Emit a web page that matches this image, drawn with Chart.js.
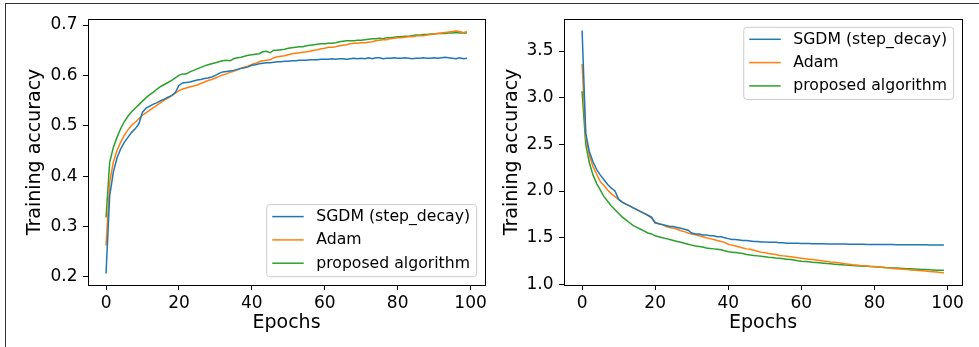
<!DOCTYPE html>
<html><head><meta charset="utf-8">
<script src="https://cdn.jsdelivr.net/npm/chart.js@4.4.1/dist/chart.umd.min.js"></script>
<style>
html,body{margin:0;padding:0;background:#fff;width:979px;height:347px;overflow:hidden;}
#frame{position:absolute;left:5px;top:3px;width:974px;height:344px;border-top:1px solid #333;border-left:1px solid #333;box-sizing:border-box;}
canvas{position:absolute;top:0;}
</style></head><body>
<div id="frame"></div>
<canvas id="c1" width="490" height="347" style="left:0"></canvas>
<canvas id="c2" width="489" height="347" style="left:490px"></canvas>
<script>
const EPOCHS = Array.from({length: 100}, (_, i) => i);
const SERIES_NAMES = ['SGDM (step_decay)', 'Adam', 'proposed algorithm'];
const X_TITLE = 'Epochs';
const Y_TITLE = 'Training accuracy';

const ACC_SGDM = [0.207,0.361,0.408,0.436,0.454,0.467,0.477,0.487,0.494,0.504,
0.527,0.535,0.539,0.543,0.546,0.550,0.553,0.557,0.560,0.566,
0.580,0.585,0.586,0.587,0.589,0.591,0.592,0.594,0.595,0.597,
0.600,0.604,0.607,0.608,0.609,0.610,0.612,0.614,0.615,0.617,
0.620,0.621,0.623,0.624,0.625,0.625,0.626,0.627,0.627,0.628,
0.628,0.629,0.629,0.630,0.630,0.630,0.631,0.631,0.631,0.632,
0.632,0.632,0.633,0.632,0.633,0.633,0.632,0.633,0.634,0.633,
0.634,0.633,0.635,0.633,0.635,0.635,0.633,0.634,0.634,0.635,
0.634,0.634,0.635,0.634,0.633,0.634,0.634,0.635,0.634,0.634,
0.635,0.634,0.635,0.636,0.635,0.634,0.633,0.635,0.633,0.634];

const ACC_ADAM = [0.262,0.388,0.428,0.451,0.467,0.481,0.492,0.501,0.507,0.514,
0.521,0.526,0.531,0.536,0.541,0.546,0.551,0.555,0.560,0.565,
0.570,0.573,0.575,0.577,0.579,0.581,0.584,0.587,0.590,0.592,
0.595,0.598,0.601,0.603,0.606,0.608,0.611,0.614,0.617,0.619,
0.622,0.624,0.627,0.629,0.630,0.631,0.635,0.637,0.638,0.639,
0.641,0.643,0.644,0.645,0.646,0.647,0.648,0.650,0.651,0.653,
0.654,0.656,0.656,0.657,0.659,0.660,0.661,0.663,0.664,0.664,
0.665,0.665,0.666,0.667,0.669,0.670,0.671,0.671,0.673,0.674,
0.675,0.675,0.676,0.677,0.677,0.678,0.679,0.679,0.680,0.681,
0.682,0.683,0.684,0.685,0.686,0.687,0.688,0.687,0.685,0.687];

const ACC_PROPOSED = [0.318,0.428,0.457,0.477,0.494,0.508,0.519,0.528,0.535,0.542,
0.549,0.556,0.562,0.567,0.573,0.578,0.582,0.586,0.590,0.595,
0.600,0.603,0.603,0.607,0.610,0.613,0.616,0.619,0.621,0.623,
0.625,0.627,0.629,0.630,0.629,0.633,0.635,0.636,0.638,0.640,
0.641,0.642,0.643,0.647,0.648,0.645,0.650,0.650,0.651,0.652,
0.654,0.655,0.656,0.657,0.657,0.659,0.660,0.661,0.662,0.663,
0.663,0.664,0.664,0.665,0.667,0.668,0.669,0.669,0.669,0.670,
0.670,0.671,0.672,0.673,0.673,0.674,0.673,0.675,0.675,0.676,
0.677,0.677,0.678,0.678,0.679,0.680,0.680,0.681,0.681,0.682,
0.682,0.683,0.683,0.683,0.684,0.684,0.685,0.684,0.684,0.684];

const LOSS_SGDM = [3.72,2.62,2.42,2.31,2.23,2.17,2.12,2.07,2.03,2.00,
1.91,1.88,1.86,1.84,1.82,1.80,1.78,1.76,1.74,1.72,
1.66,1.65,1.64,1.63,1.62,1.62,1.61,1.60,1.59,1.58,
1.55,1.54,1.54,1.53,1.53,1.52,1.52,1.51,1.51,1.50,
1.49,1.48,1.48,1.475,1.47,1.47,1.465,1.46,1.46,1.455,
1.455,1.45,1.45,1.45,1.445,1.445,1.44,1.44,1.44,1.44,
1.438,1.437,1.437,1.436,1.435,1.434,1.434,1.433,1.433,1.432,
1.432,1.431,1.431,1.430,1.430,1.430,1.429,1.429,1.428,1.428,
1.428,1.427,1.427,1.426,1.426,1.426,1.425,1.425,1.425,1.424,
1.424,1.424,1.423,1.423,1.423,1.422,1.422,1.422,1.421,1.421];

const LOSS_ADAM = [3.36,2.58,2.38,2.26,2.18,2.10,2.06,2.01,1.97,1.94,
1.91,1.88,1.86,1.84,1.82,1.80,1.78,1.76,1.74,1.71,
1.66,1.65,1.64,1.62,1.61,1.60,1.59,1.575,1.565,1.55,
1.54,1.53,1.52,1.51,1.50,1.49,1.48,1.47,1.46,1.45,
1.43,1.42,1.41,1.40,1.39,1.38,1.375,1.365,1.355,1.345,
1.34,1.33,1.325,1.32,1.31,1.305,1.30,1.295,1.29,1.285,
1.28,1.275,1.27,1.265,1.26,1.255,1.25,1.245,1.24,1.237,
1.232,1.227,1.22,1.215,1.21,1.207,1.203,1.20,1.196,1.192,
1.19,1.186,1.182,1.178,1.174,1.17,1.168,1.165,1.162,1.158,
1.155,1.152,1.148,1.145,1.142,1.138,1.135,1.132,1.128,1.124];

const LOSS_PROPOSED = [3.07,2.50,2.30,2.17,2.08,2.01,1.94,1.89,1.84,1.80,
1.76,1.72,1.69,1.66,1.63,1.61,1.59,1.57,1.55,1.54,
1.52,1.51,1.50,1.49,1.48,1.47,1.46,1.45,1.44,1.43,
1.42,1.41,1.405,1.40,1.39,1.385,1.38,1.375,1.37,1.36,
1.35,1.345,1.34,1.335,1.33,1.32,1.315,1.31,1.305,1.30,
1.295,1.29,1.287,1.283,1.28,1.275,1.27,1.265,1.26,1.252,
1.248,1.245,1.242,1.238,1.235,1.231,1.227,1.223,1.22,1.216,
1.212,1.21,1.207,1.205,1.202,1.2,1.197,1.195,1.193,1.19,
1.188,1.186,1.183,1.18,1.178,1.176,1.174,1.172,1.17,1.168,
1.166,1.164,1.162,1.16,1.158,1.156,1.154,1.152,1.151,1.15];

const COLORS = ['#1f77b4', '#ff7f0e', '#2ca02c'];
const FONT = '"DejaVu Sans", "Liberation Sans", sans-serif';
Chart.defaults.font.family = FONT;
Chart.defaults.color = '#000';

const framePlugin = {
  id: 'frameBox',
  afterDatasetsDraw(chart) {
    const a = chart.chartArea, ctx = chart.ctx;
    ctx.save();
    ctx.strokeStyle = '#000';
    ctx.lineWidth = 1;
    ctx.strokeRect(Math.round(a.left) + 0.5, Math.round(a.top) + 0.5,
      Math.round(a.right) - Math.round(a.left), Math.round(a.bottom) - Math.round(a.top));
    ctx.restore();
  }
};

const innerLegend = {
  id: 'innerLegend',
  afterDraw(chart, args, opts) {
    const ctx = chart.ctx, a = chart.chartArea;
    const fs = 15.7;
    ctx.save();
    ctx.font = fs + 'px ' + FONT;
    const ds = chart.data.datasets;
    let maxW = 0;
    ds.forEach(d => { maxW = Math.max(maxW, ctx.measureText(d.label).width); });
    const w = 49.5 + maxW + 6.5;
    const rowH = 23.3;
    const h = 12 + rowH * (ds.length - 1) + 13.5;
    const right = a.right - 8.4;
    const left = right - w;
    const top = opts.corner === 'br' ? (a.bottom - 8.3 - h) : (a.top + 8.3);
    const r = 3;
    ctx.beginPath();
    ctx.moveTo(left + r, top);
    ctx.lineTo(left + w - r, top);
    ctx.arcTo(left + w, top, left + w, top + r, r);
    ctx.lineTo(left + w, top + h - r);
    ctx.arcTo(left + w, top + h, left + w - r, top + h, r);
    ctx.lineTo(left + r, top + h);
    ctx.arcTo(left, top + h, left, top + h - r, r);
    ctx.lineTo(left, top + r);
    ctx.arcTo(left, top, left + r, top, r);
    ctx.closePath();
    ctx.fillStyle = 'rgba(255,255,255,0.8)';
    ctx.fill();
    ctx.strokeStyle = '#cccccc';
    ctx.lineWidth = 1;
    ctx.stroke();
    ds.forEach((d, i) => {
      const y = top + 12 + i * rowH;
      ctx.strokeStyle = d.borderColor;
      ctx.lineWidth = 1.5;
      ctx.beginPath();
      ctx.moveTo(left + 5.5, y);
      ctx.lineTo(left + 37, y);
      ctx.stroke();
      ctx.fillStyle = '#000';
      ctx.textBaseline = 'middle';
      ctx.textAlign = 'left';
      ctx.fillText(d.label, left + 49.5, y + 0.5);
    });
    ctx.restore();
  }
};

function makeChart(id, series, yMin, yMax, yStep, yDecimals, yWidth, padRight, yTitlePad, corner) {
  const xHeight = 62;
  return new Chart(document.getElementById(id), {
    type: 'line',
    data: {
      labels: EPOCHS,
      datasets: series.map((s, i) => ({
        label: SERIES_NAMES[i],
        data: s,
        borderColor: COLORS[i],
        backgroundColor: COLORS[i],
        borderWidth: 1.5,
        pointRadius: 0,
        tension: 0,
        fill: false
      }))
    },
    options: {
      responsive: false,
      animation: false,
      devicePixelRatio: 1,
      layout: { padding: { top: 19, right: padRight, left: 0, bottom: 0 } },
      plugins: {
        legend: { display: false },
        tooltip: { enabled: false },
        innerLegend: { corner: corner }
      },
      scales: {
        x: {
          type: 'linear',
          min: -4.95, max: 103.95,
          afterFit(scale) { scale.height = xHeight; },
          ticks: { stepSize: 20, includeBounds: false, padding: 3,
                   font: { size: 17 }, color: '#000', maxRotation: 0,
                   callback: v => String(v) },
          grid: { drawOnChartArea: false, drawTicks: true, tickLength: 5, color: '#000', lineWidth: 1 },
          border: { display: true, color: '#000', width: 1 },
          title: { display: true, text: X_TITLE, font: { size: 19 }, color: '#000',
                   padding: { top: 0, bottom: 12.3 } }
        },
        y: {
          type: 'linear',
          min: yMin, max: yMax,
          afterFit(scale) { scale.width = yWidth; },
          ticks: { stepSize: yStep, includeBounds: false, padding: 5.5,
                   font: { size: 17 }, color: '#000',
                   callback: v => Number(v).toFixed(yDecimals) },
          grid: { drawOnChartArea: false, drawTicks: true, tickLength: 5, color: '#000', lineWidth: 1 },
          border: { display: true, color: '#000', width: 1 },
          title: { display: true, text: Y_TITLE, font: { size: 19 }, color: '#000',
                   padding: { top: yTitlePad, bottom: 0 } }
        }
      }
    },
    plugins: [framePlugin, innerLegend]
  });
}

makeChart('c1', [ACC_SGDM, ACC_ADAM, ACC_PROPOSED], 0.184, 0.712, 0.1, 1, 88, 5, 23.6, 'br');
makeChart('c2', [LOSS_SGDM, LOSS_ADAM, LOSS_PROPOSED], 0.993, 3.843, 0.5, 1, 74, 17, 10.3, 'tr');
</script>
</body></html>
